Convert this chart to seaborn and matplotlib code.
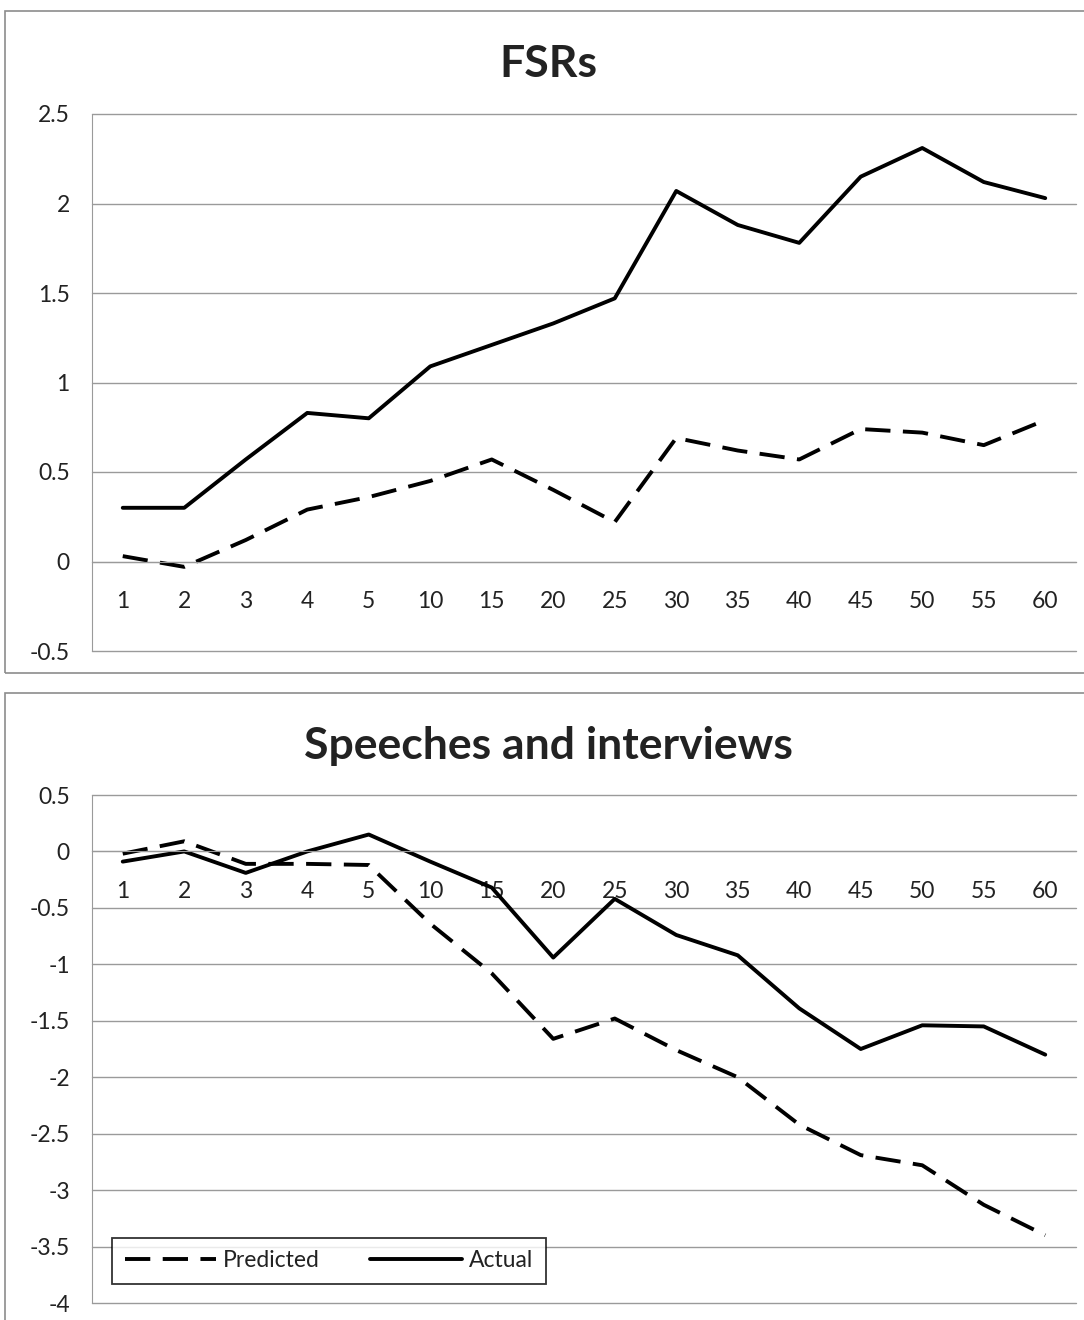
import pandas as pd
import matplotlib
matplotlib.use("Agg")
import matplotlib.pyplot as plt
import seaborn as sns
from matplotlib.patches import Rectangle
from matplotlib.lines import Line2D

categories = ["1", "2", "3", "4", "5", "10", "15", "20", "25", "30", "35", "40", "45", "50", "55", "60"]

fsr_predicted = [0.03, -0.03, 0.12, 0.29, 0.36, 0.45, 0.57, 0.40, 0.22, 0.69, 0.62, 0.57, 0.74, 0.72, 0.65, 0.79]
fsr_actual = [0.30, 0.30, 0.57, 0.83, 0.80, 1.09, 1.21, 1.33, 1.47, 2.07, 1.88, 1.78, 2.15, 2.31, 2.12, 2.03]

speech_predicted = [-0.02, 0.09, -0.11, -0.11, -0.12, -0.64, -1.08, -1.66, -1.48, -1.76, -2.00, -2.42, -2.69, -2.78, -3.13, -3.40]
speech_actual = [-0.09, 0.00, -0.19, 0.00, 0.15, -0.09, -0.32, -0.94, -0.42, -0.74, -0.92, -1.39, -1.75, -1.54, -1.55, -1.80]

fsr_ticks = [-0.5, 0, 0.5, 1, 1.5, 2, 2.5]
speech_ticks = [-4, -3.5, -3, -2.5, -2, -1.5, -1, -0.5, 0, 0.5]


def long_frame(pred, act):
    pos = list(range(len(categories)))
    return pd.DataFrame({
        "pos": pos + pos,
        "value": pred + act,
        "series": ["Predicted"] * len(pred) + ["Actual"] * len(act),
    })


sns.set_style("white")
plt.rcParams["font.family"] = ["Lato", "DejaVu Sans"]

W, H = 1084, 1320
fig = plt.figure(figsize=(W / 100, H / 100), dpi=100)

grid_col = "#9a9a9a"
txt_col = "#222222"
fs = 16.5
lw = 2.8


def panel(rect, pred, act, ticks, title, title_y):
    ax = fig.add_axes(rect)
    df = long_frame(pred, act)
    sns.lineplot(data=df, x="pos", y="value", hue="series", style="series",
                 palette={"Predicted": "black", "Actual": "black"},
                 dashes={"Predicted": (6.5, 3.2), "Actual": ""},
                 linewidth=lw, legend=False, ax=ax)
    ax.set_xlim(-0.5, len(categories) - 0.5)
    ax.set_ylim(ticks[0], ticks[-1])
    ax.set_yticks(ticks)
    ax.set_yticklabels([f"{t:g}" for t in ticks])
    ax.set_xticks(range(len(categories)))
    ax.set_xticklabels(categories)
    ax.set_xticks([i - 0.5 for i in range(len(categories) + 1)], minor=True)
    ax.set_xlabel("")
    ax.set_ylabel("")
    ax.grid(axis="y", color=grid_col, linewidth=1)
    for gl in ax.yaxis.get_gridlines():
        gl.set_clip_on(False)
    ax.set_axisbelow(True)
    for s in ["top", "right"]:
        ax.spines[s].set_visible(False)
    ax.spines["bottom"].set_position(("data", 0))
    ax.spines["bottom"].set_color(grid_col)
    ax.spines["left"].set_color(grid_col)
    ax.tick_params(axis="x", which="major", length=0, pad=21, labelsize=fs, labelcolor=txt_col)
    ax.tick_params(axis="x", which="minor", length=5, color=grid_col, direction="out")
    ax.tick_params(axis="y", length=5, color=grid_col, direction="out", pad=11, labelsize=fs, labelcolor=txt_col)
    fig.text(548 / W, 1 - title_y / H, title, ha="center", va="center",
             fontsize=32, fontweight="bold", color=txt_col)
    return ax


ax1 = panel([92 / W, 1 - 651 / H, 984 / W, 537 / H], fsr_predicted, fsr_actual,
            fsr_ticks, "FSRs", 64)
ax2 = panel([92 / W, 1 - 1303 / H, 984 / W, 508 / H], speech_predicted, speech_actual,
            speech_ticks, "Speeches and interviews", 746)

# chart borders
fig.add_artist(Rectangle((5 / W, 1 - 673 / H), 1090 / W, 662 / H, transform=fig.transFigure,
                         fill=False, edgecolor="#8c8c8c", linewidth=1.2))
fig.add_artist(Rectangle((5 / W, -0.05), 1090 / W, 0.05 + 1 - 693 / H, transform=fig.transFigure,
                         fill=False, edgecolor="#8c8c8c", linewidth=1.2))

handles = [Line2D([], [], color="black", linewidth=lw, dashes=(6.5, 3.2)),
           Line2D([], [], color="black", linewidth=lw)]
leg = ax2.legend(handles, ["Predicted", "Actual"], ncol=2, loc="lower left",
                 bbox_to_anchor=(112 / W, 1 - 1284 / H), bbox_transform=fig.transFigure,
                 frameon=True, fancybox=False, fontsize=fs, handlelength=4.0,
                 handletextpad=0.3, columnspacing=2.2, borderpad=0.55, borderaxespad=0)
leg.get_frame().set_edgecolor("black")
leg.get_frame().set_linewidth(1.3)
for t in leg.get_texts():
    t.set_color(txt_col)

fig.savefig("out.png", dpi=100, facecolor="white")
